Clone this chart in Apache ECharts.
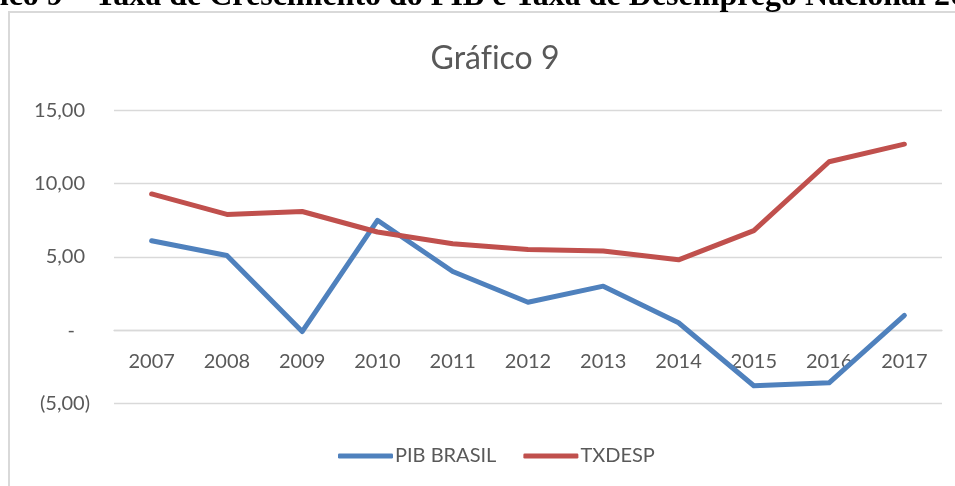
<!DOCTYPE html>
<html>
<head>
<meta charset="utf-8">
<script src="https://cdn.jsdelivr.net/npm/echarts@6/dist/echarts.min.js"></script>
<style>
html,body{margin:0;padding:0;background:#fff;}
#c{width:955px;height:486px;}
</style>
</head>
<body>
<div id="c"></div>
<script>
var categories = ['2007','2008','2009','2010','2011','2012','2013','2014','2015','2016','2017'];
var pibBrasil = [6.1, 5.1, -0.1, 7.5, 4.0, 1.9, 3.0, 0.5, -3.8, -3.6, 1.0];
var txDesp = [9.3, 7.9, 8.1, 6.7, 5.9, 5.5, 5.4, 4.8, 6.8, 11.5, 12.7];
var seriesNames = ['PIB BRASIL', 'TXDESP'];
var outerTitle = 'Gráfico 9 – Taxa de Crescimento do PIB e Taxa de Desemprego Nacional 2007-2017';
var chartTitle = 'Gráf\u200Cico 9';

var FONT = 'Lato';
var GRAY = '#595959';

function fmt(v) {
  if (v === 0) return '{z|-}';
  var s = Math.abs(v).toFixed(2).replace('.', ',');
  return v < 0 ? '{n|(' + s + ')}' : '{p|' + s + '}';
}

var chart = echarts.init(document.getElementById('c'), null, {renderer: 'canvas'});
chart.setOption({
  animation: false,
  backgroundColor: '#fff',
  title: {
    text: chartTitle,
    left: 490,
    top: 38,
    textAlign: 'center',
    textStyle: {fontFamily: FONT, fontSize: 32, fontWeight: 'normal', color: GRAY}
  },
  graphic: [
    {
      type: 'rect', z: 0,
      shape: {x: 9, y: 12, width: 960, height: 490},
      style: {fill: 'none', stroke: '#d9d9d9', lineWidth: 2}
    },
    {
      type: 'text', z: 10,
      x: -66, y: -3,
      style: {
        text: outerTitle,
        font: 'bold 32px "Liberation Serif"',
        fill: '#000',
        verticalAlign: 'middle',
        align: 'left'
      }
    }
  ],
  legend: {
    data: seriesNames,
    left: 333,
    top: 441,
    itemWidth: 55,
    itemHeight: 5,
    itemGap: 27,
    icon: 'roundRect',
    textStyle: {fontFamily: FONT, fontSize: 20, color: GRAY, padding: [0, 0, 0, -3]}
  },
  grid: {left: 114, right: 13, top: 110.5, bottom: 82.7, containLabel: false},
  xAxis: {
    type: 'category',
    data: categories,
    boundaryGap: true,
    offset: -73.3,
    axisLine: {show: true, onZero: false, lineStyle: {color: '#d9d9d9', width: 1.3}},
    axisTick: {show: false},
    axisLabel: {fontFamily: FONT, fontSize: 20, color: GRAY, margin: 22},
    splitLine: {show: false}
  },
  yAxis: {
    type: 'value',
    min: -5, max: 15, interval: 5,
    axisLine: {show: false},
    axisTick: {show: false},
    splitLine: {lineStyle: {color: '#d9d9d9', width: 1.3}},
    axisLabel: {
      fontFamily: FONT, fontSize: 20, color: GRAY, margin: 24,
      formatter: fmt,
      rich: {
        p: {fontFamily: FONT, fontSize: 20, color: GRAY, padding: [0, 5, 0, 0]},
        n: {fontFamily: FONT, fontSize: 20, color: GRAY},
        z: {fontFamily: FONT, fontSize: 20, color: GRAY, padding: [0, 15, 0, 0]}
      }
    }
  },
  series: [
    {
      name: seriesNames[0], type: 'line', data: pibBrasil,
      symbol: 'none', color: '#4f81bd',
      lineStyle: {width: 5, color: '#4f81bd', cap: 'round', join: 'round'}
    },
    {
      name: seriesNames[1], type: 'line', data: txDesp,
      symbol: 'none', color: '#c0504d',
      lineStyle: {width: 5, color: '#c0504d', cap: 'round', join: 'round'}
    }
  ]
});
</script>
</body>
</html>
